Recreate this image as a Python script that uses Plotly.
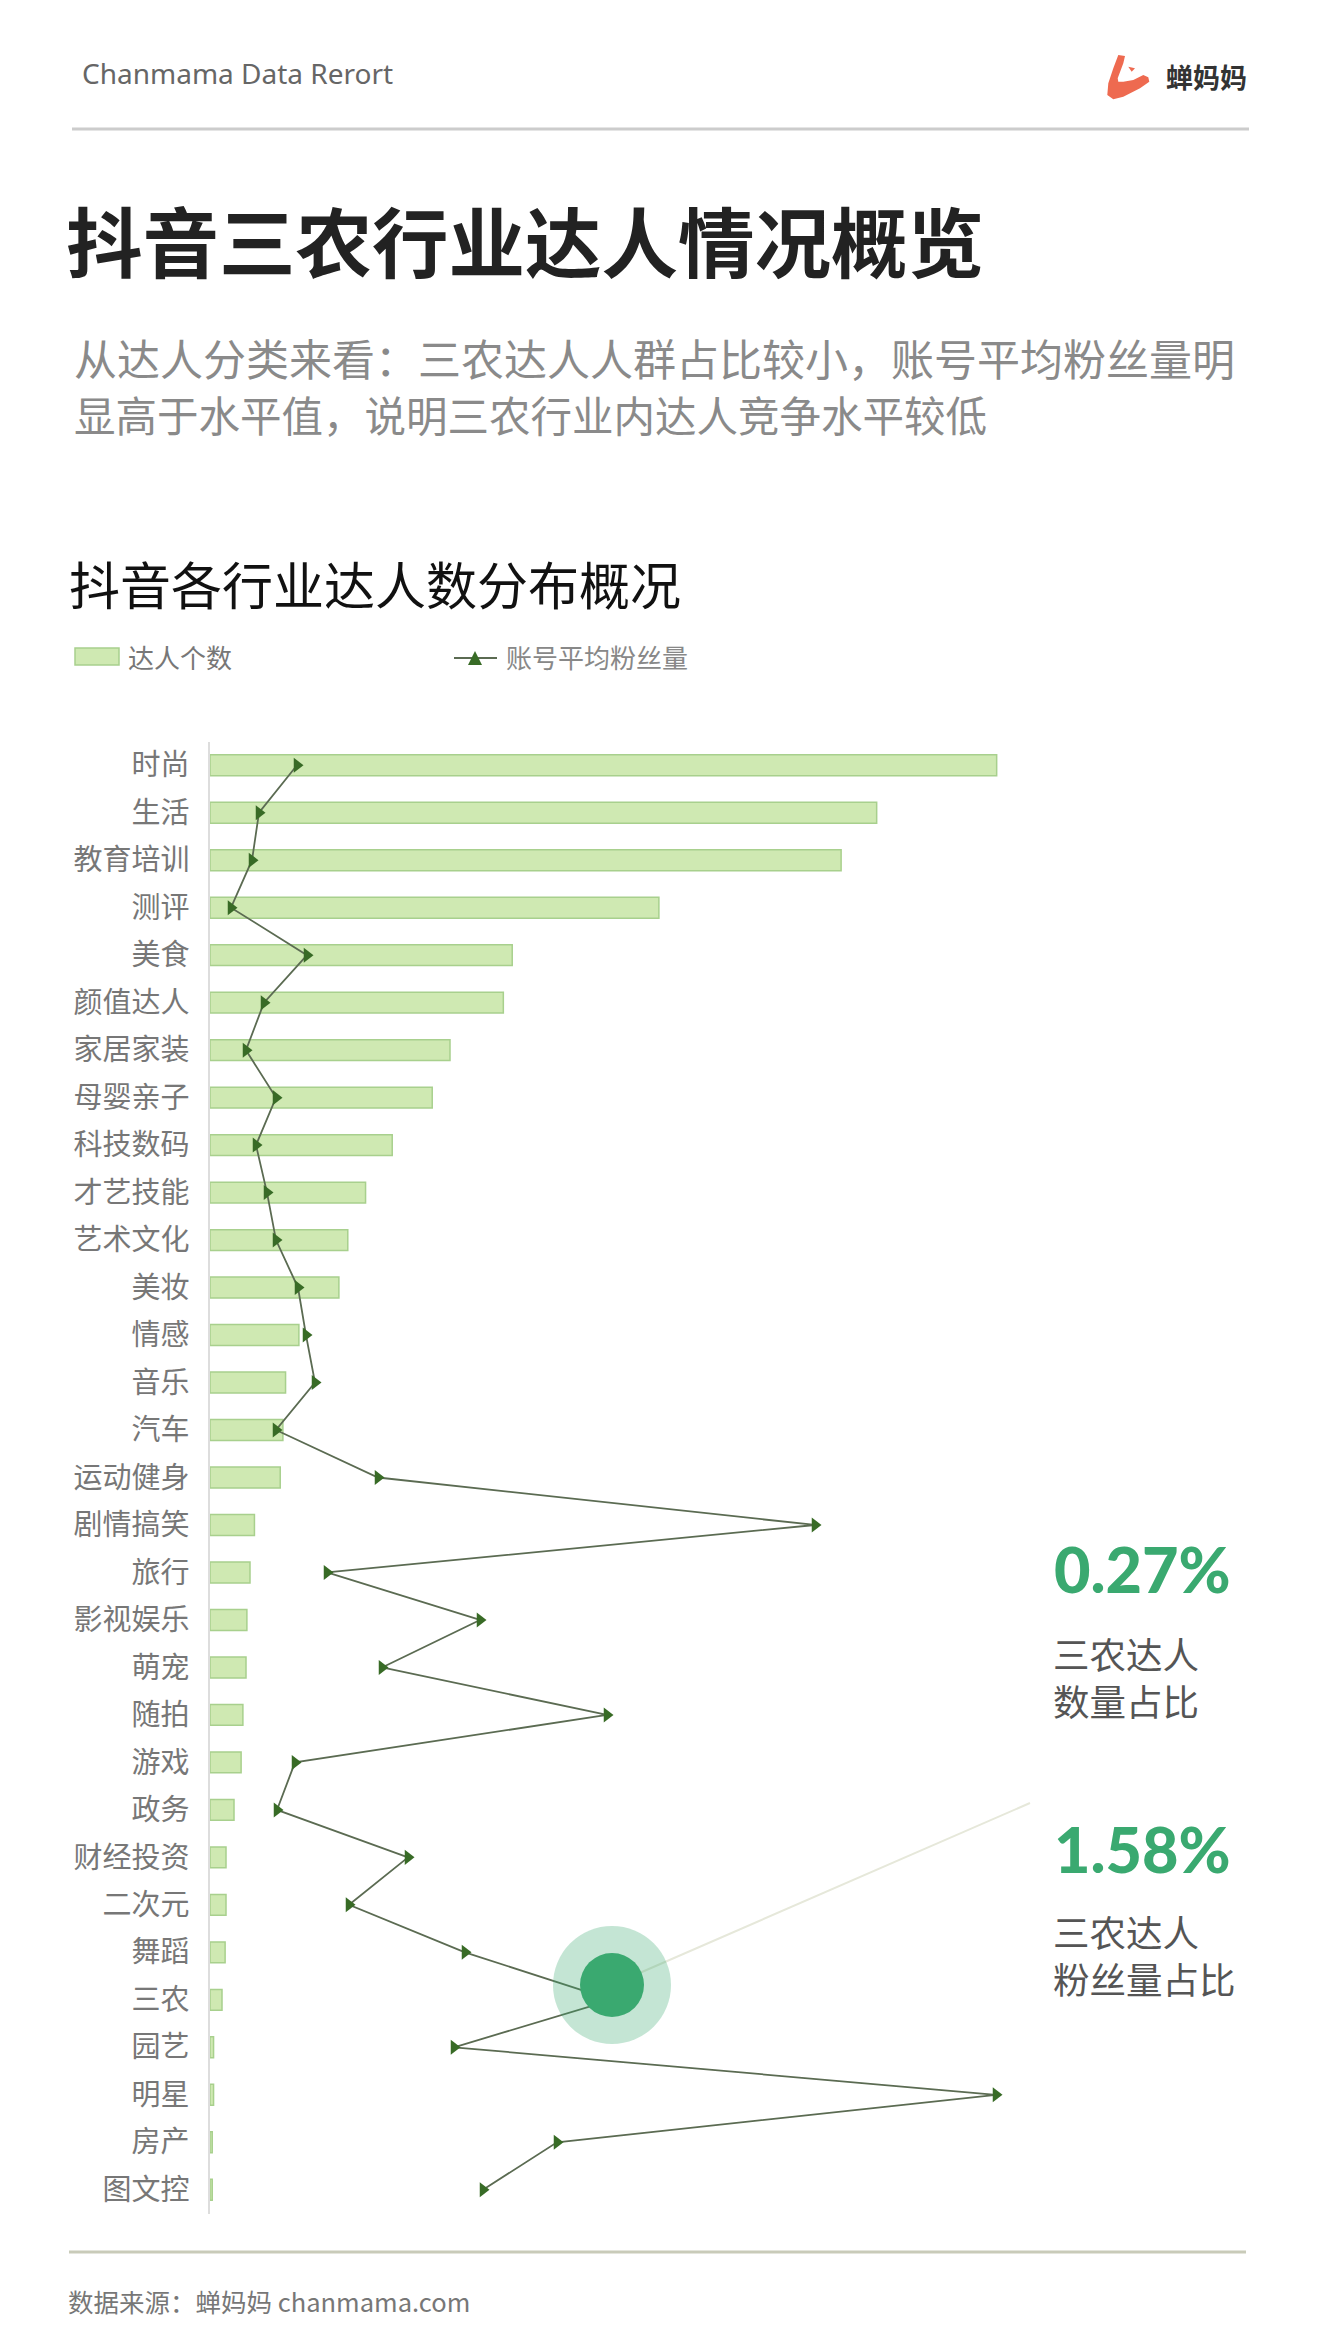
import plotly.graph_objects as go

W, H = 1318, 2339
categories = ["时尚","生活","教育培训","测评","美食","颜值达人","家居家装","母婴亲子","科技数码","才艺技能","艺术文化","美妆","情感","音乐","汽车","运动健身","剧情搞笑","旅行","影视娱乐","萌宠","随拍","游戏","政务","财经投资","二次元","舞蹈","三农","园艺","明星","房产","图文控"]
talent_share = [17.7,15.0,14.2,10.1,6.8,6.6,5.4,5.0,4.1,3.5,3.1,2.9,2.0,1.7,1.64,1.58,1.0,0.9,0.83,0.81,0.74,0.7,0.54,0.36,0.36,0.34,0.27,0.08,0.08,0.05,0.05]
avg_fans = [8.7,4.9,4.2,2.1,9.7,5.4,3.6,6.6,4.6,5.7,6.6,8.8,9.6,10.5,6.6,16.8,60.5,11.7,27.0,17.2,39.7,8.5,6.7,19.8,13.9,25.5,40.2,24.4,78.6,34.7,27.3]

CJK = "Noto Sans CJK SC"
GREEN = "#3aa970"
def px(x): return x / W
def py(y): return 1 - y / H

fig = go.Figure()
fig.add_bar(y=categories, x=talent_share, orientation="h", name="达人个数",
            marker=dict(color="#cfe9b2", line=dict(color="#a8d08d", width=1.5)),
            showlegend=False, xaxis="x", yaxis="y")
fig.add_scatter(y=categories, x=avg_fans, mode="lines+markers", name="账号平均粉丝量",
                line=dict(color="#5b6b52", width=1.8),
                marker=dict(symbol="triangle-right", size=13, color="#386b26"),
                showlegend=False, xaxis="x2", yaxis="y")

texts = [
    ("Chanmama Data Rerort", 81, 73, 28, "#666666", 400, "Noto Sans"),
    ("蝉妈妈", 1165, 76, 27, "#333333", 700, CJK),
    ("抖音三农行业达人情况概览", 65, 238, 76.5, "#222222", 700, CJK),
    ("从达人分类来看：三农达人人群占比较小，账号平均粉丝量明", 73, 357, 43, "#8a8a8a", 400, CJK),
    ("显高于水平值，说明三农行业内达人竞争水平较低", 73, 414, 41.5, "#8a8a8a", 400, CJK),
    ("抖音各行业达人数分布概况", 68, 583, 51, "#111111", 400, CJK),
    ("达人个数", 127, 656, 26, "#777777", 400, CJK),
    ("账号平均粉丝量", 505, 656, 26, "#888888", 400, CJK),
    ("0.27%", 1053, 1568, 63, GREEN, 900, "Lato"),
    ("三农达人<br>数量占比", 1052, 1676.5, 36.5, "#555555", 400, CJK),
    ("1.58%", 1053, 1848, 63, GREEN, 900, "Lato"),
    ("三农达人<br>粉丝量占比", 1052, 1955, 36.5, "#555555", 400, CJK),
    ("数据来源：蝉妈妈 chanmama.com", 67, 2300, 25.5, "#777777", 400, CJK),
]
annotations = [dict(text=t, x=px(x), y=py(y), xref="paper", yref="paper", xanchor="left", yanchor="middle",
                    align="left", showarrow=False, font=dict(size=s, color=c, family=f, weight=w), borderpad=0)
               for t, x, y, s, c, w, f in texts]

def line(x0, y0, x1, y1, color, width):
    return dict(type="line", xref="paper", yref="paper", x0=px(x0), y0=py(y0), x1=px(x1), y1=py(y1),
                line=dict(color=color, width=width), layer="above")
def circle(cx, cy, r, color):
    return dict(type="circle", xref="paper", yref="paper", x0=px(cx-r), x1=px(cx+r), y0=py(cy-r), y1=py(cy+r),
                fillcolor=color, line=dict(width=0), layer="above")
def path(points, fill):
    d = "M" + " L".join(f"{px(x):.5f},{py(y):.5f}" for x, y in points) + " Z"
    return dict(type="path", xref="paper", yref="paper", path=d, fillcolor=fill, line=dict(width=0), layer="above")

shapes = [
    line(72, 129, 1249, 129, "#cccccc", 3),
    line(69, 2252, 1246, 2252, "#c9cbb9", 3),
    line(612, 1985, 1030, 1803, "#e6e8da", 2),
    circle(612, 1985, 59, "rgba(58,169,112,0.30)"),
    circle(612, 1985, 32, GREEN),
    dict(type="rect", xref="paper", yref="paper", x0=px(75), x1=px(119), y0=py(648), y1=py(665),
         fillcolor="#cfe9b2", line=dict(color="#a8d08d", width=1.5), layer="above"),
    line(454, 658, 497, 658, "#5b6b52", 2),
    path([(468, 665), (482, 665), (475, 651)], "#386b26"),
    path([(1118.3,55),(1125,56),(1123.3,63.3),(1117.7,78.3),(1118.3,81.7),(1123.3,81.7),(1133.3,80),(1143.3,75),
          (1148.3,77.3),(1149.3,81.7),(1140,88.3),(1123.3,96.7),(1113.3,99.3),(1107.3,95),(1108.3,83.3),(1113.3,68.3)], "#ee6a50"),
    path([(1128.3,66.7),(1135,68.3),(1131.7,71.7)], "#ee6a50"),
]

fig.update_layout(
    width=W, height=H, margin=dict(l=0, r=0, t=0, b=0, pad=0),
    paper_bgcolor="white", plot_bgcolor="white", bargap=0.56, showlegend=False,
    font=dict(family=CJK),
    xaxis=dict(domain=[px(210), px(1100)], range=[0, 20.025], visible=False),
    xaxis2=dict(domain=[px(210), px(1100)], range=[0, 89], visible=False, overlaying="x", side="top"),
    yaxis=dict(domain=[py(2213.5), py(741.5)], range=[30.5, -0.5], type="category",
               showline=True, linecolor="#dddddd", linewidth=1.5, showgrid=False, zeroline=False,
               ticks="outside", ticklen=13, tickcolor="rgba(0,0,0,0)",
               tickfont=dict(size=29, color="#777777", family=CJK)),
    annotations=annotations, shapes=shapes,
)
fig.write_html("out.html", config={"displayModeBar": False}, post_script="document.body.style.margin='0';")
